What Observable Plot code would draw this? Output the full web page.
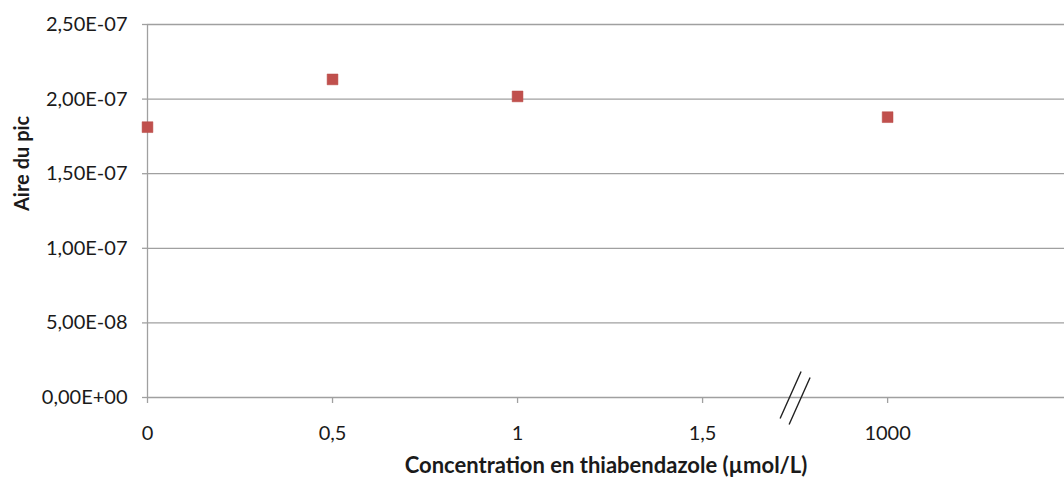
<!DOCTYPE html>
<html>
<head>
<meta charset="utf-8">
<script src="https://cdn.jsdelivr.net/npm/d3@7"></script>
<script src="https://cdn.jsdelivr.net/npm/@observablehq/plot@0.6"></script>
<style>
  html, body { margin: 0; padding: 0; background: #fff; }
  #chart { width: 1064px; height: 481px; }
</style>
</head>
<body>
<div id="chart"></div>
<script>
// Categories (axis positions) and their labels
const xTickPos = [0, 0.5, 1, 1.5, 2];
const xTickLabels = ["0", "0,5", "1", "1,5", "1000"];

// Series: concentration label, axis position, peak area
const pointLabels = ["0", "0,5", "1", "1000"];
const pointPos = [0, 0.5, 1, 2];
const peakArea = [1.812e-7, 2.132e-7, 2.018e-7, 1.879e-7];

// Y ticks
const yTicks = [0, 5e-8, 1e-7, 1.5e-7, 2e-7, 2.5e-7];
const yTickLabels = ["0,00E+00", "5,00E-08", "1,00E-07", "1,50E-07", "2,00E-07", "2,50E-07"];

// Axis break position
const breakPos = [1.75];

const xTitle = "Concentration en thiabendazole (µmol/L)";
const yTitle = "Aire du pic";

const data = pointPos.map((p, i) => ({pos: p, label: pointLabels[i], area: peakArea[i]}));

const breakSymbol = {
  draw(context, size) {
    context.moveTo(6, -26);
    context.lineTo(-15, 21);
    context.moveTo(15, -20);
    context.lineTo(-6, 27);
  }
};

const gridColor = "#a0a0a0";

const chart = Plot.plot({
  width: 1064,
  height: 481,
  marginLeft: 147,
  marginRight: 0,
  marginTop: 24,
  marginBottom: 84,
  style: {fontFamily: "Lato, 'Open Sans', sans-serif", background: "#fff", color: "#1a1a1a"},
  x: {domain: [0, 2.478], label: null},
  y: {domain: [0, 2.5e-7], label: null},
  marks: [
    Plot.gridY(yTicks, {stroke: gridColor, strokeOpacity: 1, strokeWidth: 1.3}),
    Plot.axisY({
      ticks: yTicks,
      tickFormat: d => yTickLabels[yTicks.indexOf(d)],
      tickSize: 5,
      tickPadding: 15,
      fontSize: 20,
      stroke: gridColor,
      strokeWidth: 1.3,
      label: null
    }),
    Plot.axisX({
      ticks: xTickPos,
      tickFormat: d => xTickLabels[xTickPos.indexOf(d)],
      tickSize: 6,
      tickPadding: 22,
      fontSize: 20,
      stroke: gridColor,
      strokeWidth: 1.3,
      label: null
    }),
    Plot.ruleX([0], {stroke: gridColor, strokeWidth: 1.3}),
    Plot.dot(breakPos, {x: d => d, y: () => 0, symbol: breakSymbol, stroke: "#222", strokeWidth: 1.4, fill: "none", r: 5}),
    Plot.dot(data, {x: "pos", y: "area", symbol: "square", r: 6.1, fill: "#C0504D", stroke: "#B84A47", strokeWidth: 0.5}),
    Plot.text([xTitle], {text: d => d, frameAnchor: "bottom", dy: 75, fontSize: 22, fontWeight: "bold", fill: "#1a1a1a"}),
    Plot.text([yTitle], {text: d => d, frameAnchor: "left", dx: -125, rotate: -90, fontSize: 20, fontWeight: "bold", fill: "#1a1a1a"})
  ]
});

document.getElementById("chart").appendChild(chart);
</script>
</body>
</html>
